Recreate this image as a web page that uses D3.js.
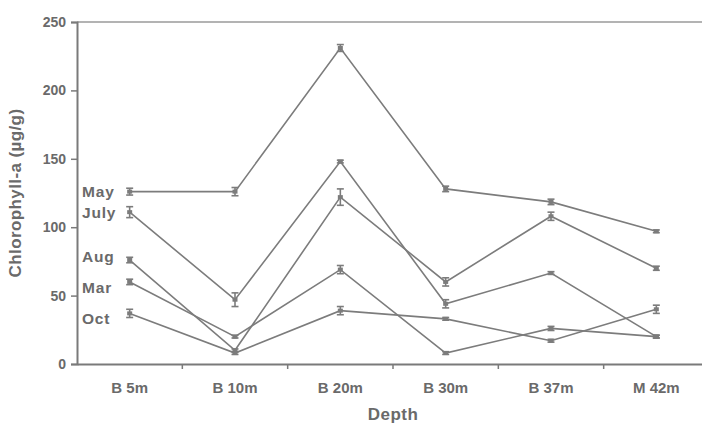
<!DOCTYPE html>
<html>
<head>
<meta charset="utf-8">
<script src="https://cdn.jsdelivr.net/npm/d3@7"></script>
<style>
  html, body { margin: 0; padding: 0; background: #fff; }
  text { font-family: "Liberation Sans", Arial, sans-serif; font-weight: bold; fill: #6a6a6a; }
</style>
</head>
<body>
<svg id="chart" width="702" height="426"></svg>
<script>
// ---- data ----
const depths = ["B 5m", "B 10m", "B 20m", "B 30m", "B 37m", "M 42m"];
const months = ["May", "July", "Aug", "Mar", "Oct"];
const mayValues  = [126, 126, 231, 128, 118.5, 97];
const mayErr     = [2.5, 3, 2.5, 2, 2, 1];
const julyValues = [111, 47, 148, 44, 66.5, 20];
const julyErr    = [4, 5, 1, 3, 1, 1];
const augValues  = [76, 10, 122, 60, 108, 70];
const augErr     = [2, 1, 6, 3, 3, 1.5];
const marValues  = [60, 20, 69, 8, 26, 20];
const marErr     = [2, 1, 3, 1, 1.5, 1];
const octValues  = [37, 8, 39, 33, 17, 40];
const octErr     = [3, 1, 3, 1, 1, 3];
const yTicks = [0, 50, 100, 150, 200, 250];

const series = [
  { name: "May",  values: mayValues,  err: mayErr,  dy: 0 },
  { name: "July", values: julyValues, err: julyErr, dy: 0 },
  { name: "Aug",  values: augValues,  err: augErr,  dy: -4 },
  { name: "Mar",  values: marValues,  err: marErr,  dy: 5 },
  { name: "Oct",  values: octValues,  err: octErr,  dy: 5 }
];

const svg = d3.select("#chart");
const mLeft = 77, mRight = 709, mTop = 22, mBottom = 364;
const x = d3.scaleBand().domain(depths).range([mLeft, mRight]);
const y = d3.scaleLinear().domain([0, 250]).range([mBottom, mTop]);
const axisColor = "#7a7a7a";
const lineColor = "#7c7c7c";

// top frame line
svg.append("line").attr("x1", mLeft).attr("x2", 702).attr("y1", y(250)).attr("y2", y(250))
  .attr("stroke", "#9a9a9a").attr("stroke-width", 1.3);

// y axis
const yAxis = svg.append("g").attr("transform", `translate(${mLeft},0)`)
  .call(d3.axisLeft(y).tickValues(yTicks).tickSize(6).tickPadding(5));
yAxis.select(".domain").attr("stroke", axisColor).attr("stroke-width", 2);
yAxis.selectAll(".tick line").attr("stroke", axisColor).attr("stroke-width", 1.5);
yAxis.selectAll(".tick text").style("font-size", "14px").attr("fill", "#6a6a6a");

// x axis
const xAxis = svg.append("g").attr("transform", `translate(0,${mBottom})`)
  .call(d3.axisBottom(x).tickSize(0).tickPadding(18));
xAxis.select(".domain").attr("stroke", axisColor).attr("stroke-width", 2);
xAxis.selectAll(".tick text").style("font-size", "15px").attr("fill", "#6a6a6a");
// boundary ticks between categories
svg.append("g").selectAll("line").data(depths.slice(1)).join("line")
  .attr("x1", d => x(d)).attr("x2", d => x(d))
  .attr("y1", mBottom).attr("y2", mBottom + 5)
  .attr("stroke", axisColor).attr("stroke-width", 1.5);

// axis titles
svg.append("text").attr("x", (mLeft + mRight) / 2).attr("y", 420)
  .attr("text-anchor", "middle").style("font-size", "17px").attr("letter-spacing", "0.5px").text("Depth");
svg.append("text").attr("transform", `translate(21,193) rotate(-90)`)
  .attr("text-anchor", "middle").style("font-size", "17px").attr("letter-spacing", "0.4px").text("Chlorophyll-a (µg/g)");

// lines
const cx = d => x(d) + x.bandwidth() / 2;
const line = d3.line().x((v, i) => cx(depths[i])).y(v => y(v));
const g = svg.append("g");
series.forEach(s => {
  g.append("path").attr("d", line(s.values)).attr("fill", "none")
    .attr("stroke", lineColor).attr("stroke-width", 1.6);
  const pts = s.values.map((v, i) => ({ x: cx(depths[i]), v, e: s.err[i] }));
  // error bars
  const eb = g.append("g").attr("stroke", lineColor).attr("stroke-width", 1.6);
  pts.forEach(p => {
    eb.append("line").attr("x1", p.x).attr("x2", p.x).attr("y1", y(p.v + p.e)).attr("y2", y(p.v - p.e));
    eb.append("line").attr("x1", p.x - 3.5).attr("x2", p.x + 3.5).attr("y1", y(p.v + p.e)).attr("y2", y(p.v + p.e));
    eb.append("line").attr("x1", p.x - 3.5).attr("x2", p.x + 3.5).attr("y1", y(p.v - p.e)).attr("y2", y(p.v - p.e));
  });
  // markers
  g.selectAll(null).data(pts).join("rect")
    .attr("x", p => p.x - 2.5).attr("y", p => y(p.v) - 2).attr("width", 5).attr("height", 4)
    .attr("fill", lineColor);
  // label
  svg.append("text").attr("x", 82).attr("y", y(s.values[0]) + s.dy)
    .attr("dy", "0.36em").style("font-size", "15.5px").attr("letter-spacing", "0.8px").text(s.name);
});
</script>
</body>
</html>
